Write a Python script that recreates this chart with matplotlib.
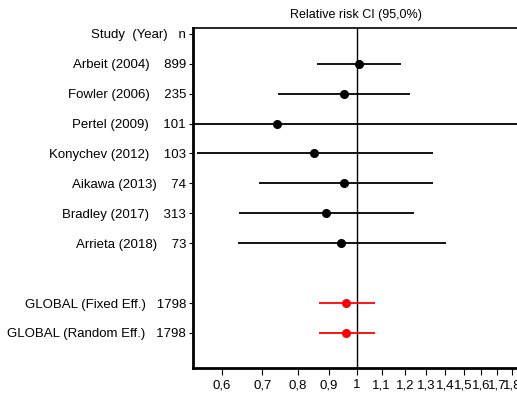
import numpy as np
import matplotlib
matplotlib.use("Agg")
import matplotlib.pyplot as plt
from matplotlib.ticker import FixedLocator, MultipleLocator, NullFormatter

plt.rcParams["font.family"] = ["Liberation Sans", "DejaVu Sans"]

# study data (relative risk and 95% CI)
studies = ["Arbeit (2004)", "Fowler (2006)", "Pertel (2009)", "Konychev (2012)",
           "Aikawa (2013)", "Bradley (2017)", "Arrieta (2018)"]
n_study = [899, 235, 101, 103, 74, 313, 73]
rr      = [1.008, 0.952, 0.741, 0.851, 0.955, 0.892, 0.943]
ci_low  = [0.862, 0.743, 0.50, 0.546, 0.691, 0.641, 0.638]
ci_high = [1.182, 1.223, 2.10, 1.335, 1.335, 1.242, 1.403]

pooled   = ["GLOBAL (Fixed Eff.)", "GLOBAL (Random Eff.)"]
n_pooled = [1798, 1798]
rr_pool  = [0.962, 0.962]
lo_pool  = [0.866, 0.866]
hi_pool  = [1.072, 1.072]

xticks = [0.6, 0.7, 0.8, 0.9, 1.0, 1.1, 1.2, 1.3, 1.4, 1.5, 1.6, 1.7, 1.8]

fig = plt.figure(figsize=(5.17, 3.96), dpi=100)
ax = fig.add_axes([0.373, 0.0707, 0.631, 0.859])

ax.set_xscale("log")
ax.set_xlim(0.538, 1.85)

rows_s = np.arange(1, len(studies) + 1)
rows_p = np.arange(9, 9 + len(pooled))

ax.axvline(1.0, color="black", lw=1.0, zorder=1)

ax.hlines(rows_s, ci_low, ci_high, color="black", lw=1.3, zorder=2)
ax.plot(rr, rows_s, "o", color="black", ms=5.5, zorder=3)

ax.hlines(rows_p, lo_pool, hi_pool, color="red", lw=1.3, zorder=2)
ax.plot(rr_pool, rows_p, "o", color="red", ms=5.5, zorder=3)

ax.set_ylim(11.17, -0.2)
ylabels = ["Study  (Year)   n"]
ylabels += [f"{s}    {n}" for s, n in zip(studies, n_study)]
ylabels += [f"{s}   {n}" for s, n in zip(pooled, n_pooled)]
ax.set_yticks(list(np.arange(0, 8)) + list(rows_p))
ax.set_yticklabels(ylabels, fontsize=9.5)
ax.yaxis.set_minor_locator(MultipleLocator(0.2))
ax.tick_params(axis="y", which="major", length=3, width=0.8, pad=2)
ax.tick_params(axis="y", which="minor", length=1.0, width=0.5, color="#aaaaaa")

ax.xaxis.set_major_locator(FixedLocator(xticks))
ax.xaxis.set_minor_formatter(NullFormatter())
ax.xaxis.set_minor_locator(FixedLocator([]))
ax.set_xticklabels([("%g" % t).replace(".", ",") for t in xticks], fontsize=9.5)
ax.tick_params(axis="x", which="major", length=5, width=0.8, pad=3)

ax.spines["left"].set_linewidth(2.0)
ax.spines["bottom"].set_linewidth(2.0)
ax.spines["top"].set_linewidth(1.2)
ax.spines["right"].set_visible(False)

ax.set_title("Relative risk CI (95,0%)", fontsize=9, pad=7)

plt.savefig("out.png", dpi=100)
